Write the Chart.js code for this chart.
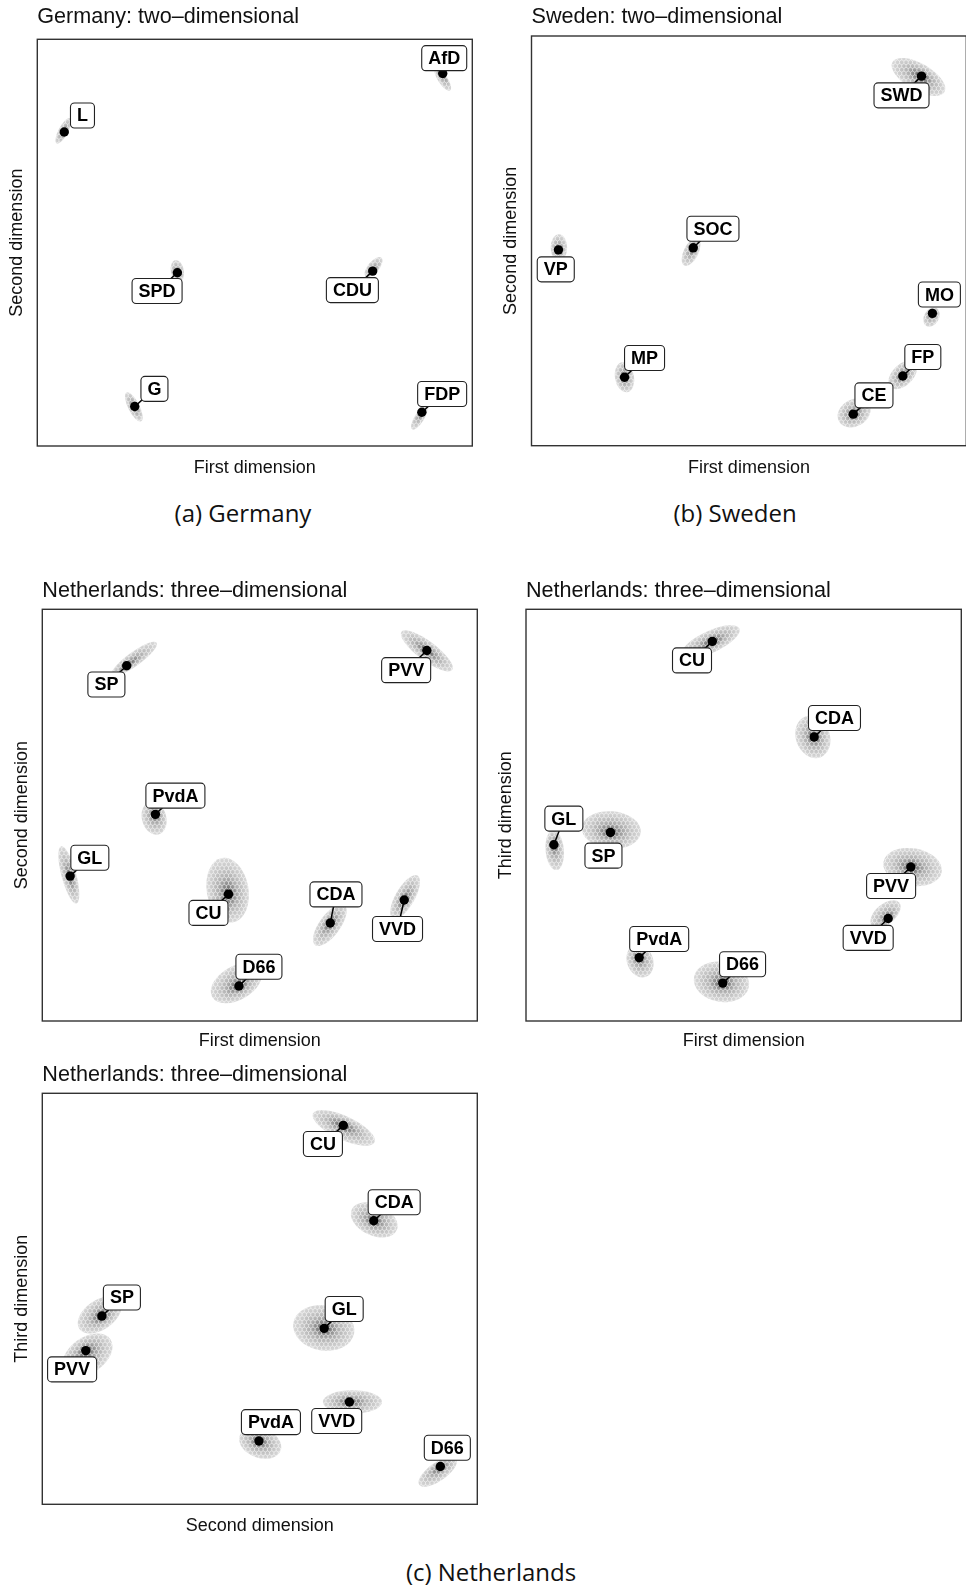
<!DOCTYPE html>
<html>
<head>
<meta charset="utf-8">
<script src="https://cdn.jsdelivr.net/npm/chart.js@4.4.1/dist/chart.umd.min.js"></script>
<style>
html,body{margin:0;padding:0;background:#fff;width:966px;height:1589px;overflow:hidden;position:relative}
canvas{position:absolute}
.cap{position:absolute;font-family:"Open Sans",sans-serif;font-size:24px;color:#111;white-space:nowrap;transform:translate(-50%,-50%);line-height:1}
</style>
</head>
<body>
<canvas id="pDE"></canvas>
<canvas id="pSE"></canvas>
<canvas id="pNL12"></canvas>
<canvas id="pNL13"></canvas>
<canvas id="pNL23"></canvas>
<div class="cap" style="left:243px;top:513px">(a) Germany</div>
<div class="cap" style="left:735px;top:513px">(b) Sweden</div>
<div class="cap" style="left:491px;top:1572px">(c) Netherlands</div>
<script>
// ---------------- DATA (positions on arbitrary 0-100 scales) ----------------
// Germany: two-dimensional
const deParties = ['AfD', 'L', 'SPD', 'CDU', 'G', 'FDP'];
const deDim1 = [93.2, 6.2, 32.2, 77.1, 22.4, 88.4];
const deDim2 = [91.6, 77.2, 42.6, 43.0, 9.7, 8.3];
// posterior clouds: centre, semi-axes (x-units), orientation (degrees, screen)
const deCloudX = [93.2, 6.0, 32.2, 77.3, 22.2, 87.8];
const deCloudY = [90.2, 77.5, 43.0, 44.0, 9.6, 6.9];
const deCloudA = [3.1, 3.3, 2.6, 2.8, 3.7, 3.1];
const deCloudB = [1.1, 1.1, 1.5, 1.3, 1.3, 1.1];
const deCloudAngle = [57, -62, 80, -50, 63, -58];

// Sweden: two-dimensional
const seParties = ['SWD', 'SOC', 'VP', 'MO', 'MP', 'FP', 'CE'];
const seDim1 = [89.7, 37.2, 6.2, 92.2, 21.4, 85.4, 74.0];
const seDim2 = [90.2, 48.3, 47.8, 32.3, 16.7, 17.0, 7.7];
const seCloudX = [89.0, 36.7, 6.3, 92.0, 21.4, 85.4, 74.2];
const seCloudY = [90.0, 47.3, 48.3, 31.4, 16.7, 17.3, 8.0];
const seCloudA = [6.9, 3.5, 3.1, 2.4, 3.5, 4.0, 4.0];
const seCloudB = [3.1, 1.7, 1.9, 1.7, 2.2, 2.4, 3.1];
const seCloudAngle = [30, 116, 90, -60, 80, -45, -30];

// Netherlands: three-dimensional
const nlParties = ['SP', 'PVV', 'PvdA', 'GL', 'CU', 'CDA', 'VVD', 'D66'];
const nlDim1 = [19.4, 88.4, 26.0, 6.4, 42.8, 66.2, 83.2, 45.2];
const nlDim2 = [86.3, 90.0, 50.2, 35.2, 30.8, 23.8, 29.4, 8.5];
const nlDim3 = [45.8, 37.4, 15.4, 42.8, 92.2, 69.0, 24.9, 9.2];
// clouds, first vs second dimension
const nl12CloudX = [21.1, 88.4, 25.7, 6.1, 42.6, 66.1, 83.4, 44.6];
const nl12CloudY = [87.9, 89.9, 49.3, 35.5, 31.8, 23.3, 30.1, 9.2];
const nl12CloudA = [6.4, 7.3, 3.9, 6.8, 7.5, 5.7, 5.7, 6.4];
const nl12CloudB = [1.6, 2.2, 2.8, 1.7, 4.8, 2.4, 2.2, 3.9];
const nl12CloudAngle = [-36, 37, 75, 75, 80, -54, -60, -30];
// clouds, first vs third dimension
const nl13CloudX = [19.6, 88.8, 26.2, 6.6, 42.4, 65.9, 82.6, 44.9];
const nl13CloudY = [46.4, 37.4, 14.6, 41.5, 92.1, 69.0, 26.0, 9.5];
const nl13CloudA = [6.8, 6.8, 3.9, 4.6, 7.3, 5.0, 4.1, 6.4];
const nl13CloudB = [4.3, 4.3, 3.0, 2.1, 2.5, 3.9, 2.3, 4.6];
const nl13CloudAngle = [5, 10, 70, 85, -25, 70, -40, 10];
// clouds, second vs third dimension
const nl23CloudX = [86.8, 89.6, 49.9, 35.3, 30.7, 23.7, 28.7, 9.1];
const nl23CloudY = [46.1, 36.3, 14.9, 42.9, 91.6, 69.2, 24.9, 7.9];
const nl23CloudA = [5.7, 6.4, 5.0, 7.1, 7.8, 5.7, 6.8, 5.2];
const nl23CloudB = [3.4, 4.1, 3.4, 5.2, 2.7, 3.6, 2.7, 2.1];
const nl23CloudAngle = [-35, -35, 20, 10, 25, 25, 0, -35];

// ---------------- LAYOUT (label offsets in px, panel boxes) ----------------
const deLabelOff = [[1.5,-15.3],[18.2,-16.5],[-20.3,18.3],[-20.3,19],[19.7,-17.7],[20.3,-18.3]];
const seLabelOff = [[-20,19.2],[19.7,-19],[-2.7,19.5],[7,-18.8],[20,-19.3],[20,-19],[20.7,-18.8]];
const nl12LabelOff = [[-20.3,18.8],[-20.7,19.7],[20,-18.7],[19.7,-18.3],[-20,18.7],[5.7,-28.6],[-6.7,29],[20,-19.3]];
const nl13LabelOff = [[-7,23.2],[-19.7,19],[20,-18.6],[10,-26.2],[-20.3,19],[20.3,-19],[-20,19.4],[19.8,-18.9]];
const nl23LabelOff = [[20,-18.6],[-13.7,18.8],[12,-18.9],[20,-19.4],[-20.4,18.7],[20.4,-18.4],[-12.7,19],[7,-18.7]];

const SANS = '"Liberation Sans", Arial, Helvetica, sans-serif';

function roundRectPath(ctx, x, y, w, h, r) {
  ctx.beginPath();
  ctx.moveTo(x + r, y);
  ctx.lineTo(x + w - r, y);
  ctx.arcTo(x + w, y, x + w, y + r, r);
  ctx.lineTo(x + w, y + h - r);
  ctx.arcTo(x + w, y + h, x + w - r, y + h, r);
  ctx.lineTo(x + r, y + h);
  ctx.arcTo(x, y + h, x, y + h - r, r);
  ctx.lineTo(x, y + r);
  ctx.arcTo(x, y, x + r, y, r);
  ctx.closePath();
}

// hexagonal texture (visual only) over a cloud already filled
function hexTexture(ctx, X, Y, R, origin) {
  const s = 2.5, dx = Math.sqrt(3) * s, dy = 1.5 * s;
  const r0 = Math.floor((Y - R - origin.y) / dy) - 1, r1 = Math.ceil((Y + R - origin.y) / dy) + 1;
  ctx.beginPath();
  for (let r = r0; r <= r1; r++) {
    const cy = origin.y + r * dy;
    const shift = (r & 1) ? dx / 2 : 0;
    const c0 = Math.floor((X - R - origin.x) / dx) - 1, c1 = Math.ceil((X + R - origin.x) / dx) + 1;
    for (let c = c0; c <= c1; c++) {
      const cx = origin.x + c * dx + shift;
      for (let k = 0; k < 6; k++) {
        const t = Math.PI / 6 + k * Math.PI / 3;
        const px = cx + s * Math.cos(t), py = cy + s * Math.sin(t);
        if (k === 0) ctx.moveTo(px, py); else ctx.lineTo(px, py);
      }
      ctx.closePath();
    }
  }
  ctx.strokeStyle = 'rgba(255,255,255,0.55)';
  ctx.lineWidth = 0.6;
  ctx.stroke();
}

function makePanel(id, box, cfg) {
  const canvas = document.getElementById(id);
  canvas.width = box.cW; canvas.height = box.cH;
  canvas.style.left = box.cL + 'px'; canvas.style.top = box.cT + 'px';
  canvas.style.width = box.cW + 'px'; canvas.style.height = box.cH + 'px';

  const pts = cfg.xs.map((x, i) => ({x: x, y: cfg.ys[i]}));

  const cloudPlugin = {
    id: 'clouds',
    beforeDatasetsDraw(chart) {
      const ctx = chart.ctx, xs = chart.scales.x, ys = chart.scales.y, ca = chart.chartArea;
      const ppu = Math.abs(xs.getPixelForValue(1) - xs.getPixelForValue(0));
      ctx.save();
      ctx.beginPath(); ctx.rect(ca.left, ca.top, ca.right - ca.left, ca.bottom - ca.top); ctx.clip();
      cfg.cloudX.forEach((cxv, i) => {
        const X = xs.getPixelForValue(cxv), Y = ys.getPixelForValue(cfg.cloudY[i]);
        const a = cfg.cloudA[i] * ppu, b = cfg.cloudB[i] * ppu;
        const ang = cfg.cloudAngle[i] * Math.PI / 180;
        const PX = xs.getPixelForValue(cfg.xs[i]), PY = ys.getPixelForValue(cfg.ys[i]);
        const dx = PX - X, dy = PY - Y;
        let gx = (dx * Math.cos(ang) + dy * Math.sin(ang)) / a;
        let gy = (-dx * Math.sin(ang) + dy * Math.cos(ang)) / b;
        const r = Math.hypot(gx, gy);
        if (r > 0.8) { gx *= 0.8 / r; gy *= 0.8 / r; }
        ctx.save();
        ctx.translate(X, Y); ctx.rotate(ang); ctx.scale(a, b);
        const g = ctx.createRadialGradient(gx, gy, 0, 0, 0, 1);
        g.addColorStop(0, '#3a3a3a');
        g.addColorStop(0.2, '#808080');
        g.addColorStop(0.45, '#b0b0b0');
        g.addColorStop(0.75, '#c9c9c9');
        g.addColorStop(1, '#d9d9d9');
        ctx.fillStyle = g;
        ctx.beginPath(); ctx.arc(0, 0, 1, 0, Math.PI * 2); ctx.fill();
        ctx.restore();
        ctx.save();
        ctx.beginPath(); ctx.ellipse(X, Y, a, b, ang, 0, Math.PI * 2); ctx.clip();
        hexTexture(ctx, X, Y, Math.max(a, b), {x: ca.left, y: ca.top});
        ctx.restore();
      });
      ctx.restore();
    }
  };

  const framePlugin = {
    id: 'frame',
    afterDatasetsDraw(chart) {
      const ctx = chart.ctx, ca = chart.chartArea;
      ctx.save();
      ctx.strokeStyle = '#333';
      ctx.lineWidth = 1.4;
      ctx.strokeRect(ca.left, ca.top, ca.right - ca.left, ca.bottom - ca.top);
      ctx.restore();
    }
  };

  const labelPlugin = {
    id: 'partyLabels',
    afterDatasetsDraw(chart) {
      const ctx = chart.ctx, xs = chart.scales.x, ys = chart.scales.y;
      ctx.save();
      ctx.font = 'bold 18px ' + SANS;
      ctx.textAlign = 'center';
      ctx.textBaseline = 'middle';
      cfg.names.forEach((nm, i) => {
        const PX = xs.getPixelForValue(cfg.xs[i]), PY = ys.getPixelForValue(cfg.ys[i]);
        const off = cfg.labelOff[i];
        const cx = PX + off[0], cy = PY + off[1];
        const tw = ctx.measureText(nm).width;
        const w = tw + 13, h = 25;
        if (Math.hypot(off[0], off[1]) > 25) {
          ctx.strokeStyle = '#000'; ctx.lineWidth = 1.5;
          ctx.beginPath(); ctx.moveTo(PX, PY); ctx.lineTo(cx, cy); ctx.stroke();
        }
        roundRectPath(ctx, cx - w / 2, cy - h / 2, w, h, 4);
        ctx.fillStyle = '#fff'; ctx.fill();
        ctx.strokeStyle = '#222'; ctx.lineWidth = 1.1; ctx.stroke();
        ctx.fillStyle = '#000';
        ctx.fillText(nm, cx, cy + 1);
      });
      ctx.restore();
    }
  };

  const axisTitle = (t) => ({display: true, text: t, color: '#111', padding: 0,
    font: {family: SANS, size: 18, weight: 'normal', lineHeight: 1.2}});

  return new Chart(canvas, {
    type: 'scatter',
    data: {datasets: [{label: cfg.title, data: pts, backgroundColor: '#000', borderColor: '#000',
      pointRadius: 4.7, pointHoverRadius: 4.7, borderWidth: 0}]},
    options: {
      responsive: false, animation: false, events: [], devicePixelRatio: 1,
      layout: {padding: {left: 0, right: box.padR, top: 0, bottom: 0}},
      plugins: {
        legend: {display: false},
        tooltip: {enabled: false},
        title: {display: true, text: cfg.title, align: 'start', fullSize: false, color: '#111',
          font: {family: SANS, size: 21.6, weight: 'normal', lineHeight: 1.2},
          padding: {top: 0, bottom: box.titlePadB}}
      },
      scales: {
        x: {type: 'linear', min: 0, max: 100, reverse: !!cfg.xReverse,
          ticks: {display: false}, grid: {display: false, drawTicks: false}, border: {display: false},
          title: axisTitle(cfg.xTitle), afterFit: s => { s.height = box.xH; }},
        y: {type: 'linear', min: 0, max: 100,
          ticks: {display: false}, grid: {display: false, drawTicks: false}, border: {display: false},
          title: axisTitle(cfg.yTitle), afterFit: s => { s.width = box.yW; }}
      }
    },
    plugins: [cloudPlugin, framePlugin, labelPlugin]
  });
}

makePanel('pDE', {cL: 6, cT: 4, cW: 471, cH: 475, yW: 31.3, xH: 33, padR: 1.3, titlePadB: 9.38}, {
  title: 'Germany: two\u2013dimensional', xTitle: 'First dimension', yTitle: 'Second dimension',
  names: deParties, xs: deDim1, ys: deDim2, labelOff: deLabelOff,
  cloudX: deCloudX, cloudY: deCloudY, cloudA: deCloudA, cloudB: deCloudB, cloudAngle: deCloudAngle
});

makePanel('pSE', {cL: 500, cT: 4, cW: 471, cH: 475, yW: 31.5, xH: 33.3, padR: 2.1, titlePadB: 6.08}, {
  title: 'Sweden: two\u2013dimensional', xTitle: 'First dimension', yTitle: 'Second dimension',
  names: seParties, xs: seDim1, ys: seDim2, labelOff: seLabelOff,
  cloudX: seCloudX, cloudY: seCloudY, cloudA: seCloudA, cloudB: seCloudB, cloudAngle: seCloudAngle
});

makePanel('pNL12', {cL: 11, cT: 578, cW: 471, cH: 474, yW: 31.3, xH: 31, padR: 1.3, titlePadB: 5.38}, {
  title: 'Netherlands: three\u2013dimensional', xTitle: 'First dimension', yTitle: 'Second dimension',
  names: nlParties, xs: nlDim1, ys: nlDim2, labelOff: nl12LabelOff,
  cloudX: nl12CloudX, cloudY: nl12CloudY, cloudA: nl12CloudA, cloudB: nl12CloudB, cloudAngle: nl12CloudAngle
});

makePanel('pNL13', {cL: 495, cT: 578, cW: 471, cH: 474, yW: 31, xH: 31, padR: 1.7, titlePadB: 5.38}, {
  title: 'Netherlands: three\u2013dimensional', xTitle: 'First dimension', yTitle: 'Third dimension',
  names: nlParties, xs: nlDim1, ys: nlDim3, labelOff: nl13LabelOff,
  cloudX: nl13CloudX, cloudY: nl13CloudY, cloudA: nl13CloudA, cloudB: nl13CloudB, cloudAngle: nl13CloudAngle
});

makePanel('pNL23', {cL: 11, cT: 1062, cW: 471, cH: 475, yW: 31.3, xH: 32.7, padR: 1.3, titlePadB: 5.38}, {
  title: 'Netherlands: three\u2013dimensional', xTitle: 'Second dimension', yTitle: 'Third dimension',
  names: nlParties, xs: nlDim2, ys: nlDim3, labelOff: nl23LabelOff, xReverse: true,
  cloudX: nl23CloudX, cloudY: nl23CloudY, cloudA: nl23CloudA, cloudB: nl23CloudB, cloudAngle: nl23CloudAngle
});
</script>
</body>
</html>
